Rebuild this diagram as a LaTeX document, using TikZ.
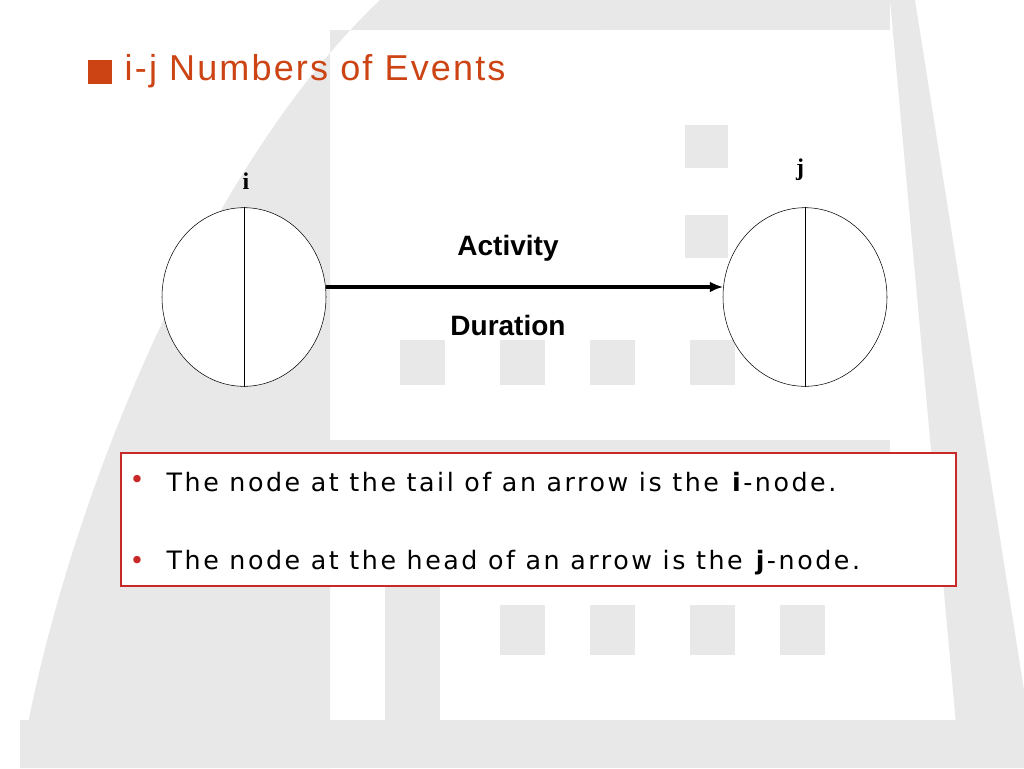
\documentclass[tikz,border=0pt]{standalone}
\usepackage{fontspec}
\setmainfont{Liberation Serif}
\setsansfont{Liberation Sans}
\newfontfamily\bodyfont[LetterSpace=10]{DejaVu Sans}
\newfontfamily\titlefont[LetterSpace=6]{Liberation Sans}
\usetikzlibrary{shapes.geometric,arrows.meta}
\definecolor{bggray}{RGB}{232,232,232}
\definecolor{titlered}{RGB}{204,68,20}
\definecolor{boxred}{RGB}{200,40,40}
\tikzset{
  event/.style={draw,ellipse,minimum width=123pt,minimum height=134pt,inner sep=0pt},
  tag/.style={font=\bfseries\sffamily\fontsize{21}{24}\selectfont},
  bullet/.style={anchor=west,font=\bodyfont\fontsize{19}{22}\selectfont}
}
\begin{document}
\begin{tikzpicture}[x=0.75pt,y=0.75pt,yscale=-1,xscale=1]
\useasboundingbox (0,0) rectangle (1024,768);

% background silhouette
\fill[bggray] (20,768) .. controls (60,520) and (200,170) .. (380,0) -- (600,0) -- (600,30) -- (330,30) -- (330,768) -- cycle;
\fill[bggray] (600,0) -- (890,0) -- (890,30) -- (600,30) -- cycle;
\fill[bggray] (890,0) -- (915,0) -- (1024,690) -- (1024,768) -- (960,768) -- cycle;
\fill[bggray] (20,720) rectangle (1024,768);
\fill[bggray] (385,540) rectangle (440,720);
\fill[bggray] (330,440) rectangle (890,460);
\foreach \x in {87,180,272} \fill[bggray] (\x,605) rectangle ++(45,50);
\foreach \x in {400,500,590,690} \fill[bggray] (\x,340) rectangle ++(45,45);
\foreach \x in {500,590,690,780} \fill[bggray] (\x,605) rectangle ++(45,50);
\foreach \y in {125,215} \fill[bggray] (685,\y) rectangle ++(43,43);

% title
\fill[titlered] (88,60) rectangle (112,84);
\node[anchor=west,text=titlered,font=\titlefont\fontsize{27}{30}\selectfont] (title) at (120,71) {i-j Numbers of Events};

% events
\node[event,fill=white] (ev-i) at (244,297) {};
\node[event,fill=white] (ev-j) at (805,297) {};
\draw (ev-i.north) -- (ev-i.south);
\draw (ev-j.north) -- (ev-j.south);
\node[font=\bfseries\fontsize{18}{20}\selectfont] (lab-i) at (246,181) {i};
\node[font=\bfseries\fontsize{18}{20}\selectfont] (lab-j) at (800,170) {j};

% activity arrow
\draw[line width=3pt,-{Latex[length=10pt,width=8pt]}] (ev-i.7) -- (ev-j.173);
\node[tag] (act) at (508,248) {Activity};
\node[tag] (dur) at (508,325) {Duration};

% explanation box
\node[draw=boxred,line width=1.5pt,fill=white,minimum width=626pt,minimum height=100pt,anchor=north west] (box) at (120,452) {};
\node[bullet,text=boxred] (d1) at (125,482) {\textbullet};
\node[bullet,text=boxred] (d2) at (125,563) {\textbullet};
\node[bullet] (b1) at (162,482) {The node at the tail of an arrow is the \textbf{i}-node.};
\node[bullet] (b2) at (162,563) {The node at the head of an arrow is the \textbf{j}-node.};
\end{tikzpicture}
\end{document}
